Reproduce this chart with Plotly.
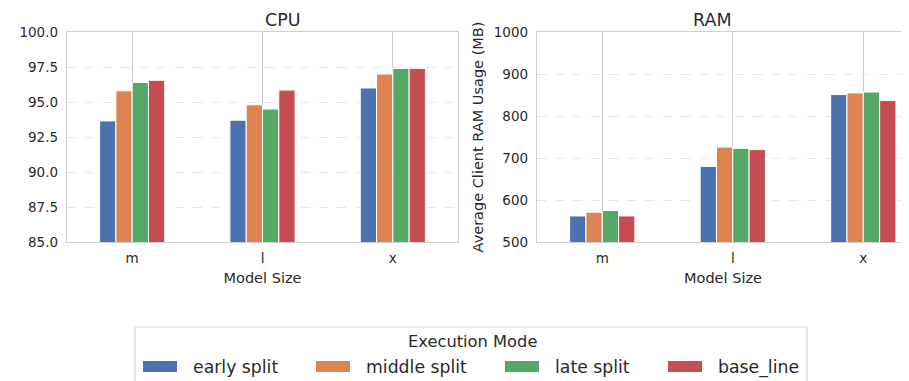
import plotly.graph_objects as go
from plotly.subplots import make_subplots

categories = ["m", "l", "x"]
modes = ["early split", "middle split", "late split", "base_line"]
colors = ["#4C72B0", "#DD8452", "#55A868", "#C44E52"]

cpu_values = {
    "early split": [93.65, 93.7, 96.0],
    "middle split": [95.8, 94.8, 97.0],
    "late split": [96.4, 94.5, 97.4],
    "base_line": [96.55, 95.85, 97.4],
}
ram_values = {
    "early split": [562, 680, 851],
    "middle split": [571, 726, 855],
    "late split": [575, 723, 857],
    "base_line": [562, 720, 837],
}

FONT = "DejaVu Sans"
TXT = "#2a2a2a"
OFF = 8  # page body margin
W, H = 909 - OFF, 381 - OFF
# screen-pixel plot box
LEFT, TOP, BOTTOM = 67, 32, 242
ML = LEFT - OFF
MT = TOP - OFF
MB = H - (BOTTOM - OFF)
MR = 0
PW = W - ML - MR
PH = H - MT - MB


def px(x):
    return (x - OFF - ML) / PW


def py(y):
    return (H - MB - (y - OFF)) / PH


fig = make_subplots(rows=1, cols=2, horizontal_spacing=0.0)

for mode, col in zip(modes, colors):
    fig.add_trace(go.Bar(x=categories, y=cpu_values[mode], name=mode,
                         marker=dict(color=col, line=dict(color="white", width=1)),
                         showlegend=False), row=1, col=1)
    fig.add_trace(go.Bar(x=categories, y=ram_values[mode], name=mode,
                         marker=dict(color=col, line=dict(color="white", width=1)),
                         showlegend=False), row=1, col=2)

d1 = [0, px(458)]
d2 = [px(537), 1.0]

axis_common = dict(showline=True, linecolor="#d0d0d0", linewidth=1.4, mirror=True,
                   ticks="", tickfont=dict(family=FONT, size=13.5, color=TXT))
xtitle = dict(text="Model Size", standoff=7, font=dict(family=FONT, size=14.5, color=TXT))

fig.update_xaxes(domain=d1, range=[-0.5, 2.5], showgrid=True, gridcolor="#cccccc",
                 gridwidth=1, title=xtitle, ticklabelstandoff=4,
                 **axis_common, row=1, col=1)
fig.update_xaxes(domain=d2, range=[-0.5, 2.35], showgrid=True, gridcolor="#cccccc",
                 gridwidth=1, title=xtitle, ticklabelstandoff=4,
                 **axis_common, row=1, col=2)
fig.update_yaxes(range=[85, 100], tickvals=[85, 87.5, 90, 92.5, 95, 97.5, 100],
                 tickformat=".1f", showgrid=True, gridcolor="#e6e6e6", griddash="dash",
                 gridwidth=1, zeroline=False, ticklabelstandoff=5,
                 **axis_common, row=1, col=1)
fig.update_yaxes(range=[500, 1000], dtick=100, showgrid=True, gridcolor="#e6e6e6",
                 griddash="dash", gridwidth=1, zeroline=False, ticklabelstandoff=5,
                 title=dict(text="Average Client RAM Usage (MB)", standoff=6,
                            font=dict(family=FONT, size=14.5, color=TXT)),
                 **axis_common, row=1, col=2)

fig.update_layout(
    width=W, height=H,
    margin=dict(l=ML, r=MR, t=MT, b=MB),
    paper_bgcolor="white", plot_bgcolor="white",
    barmode="group", bargap=0.5, bargroupgap=0,
    font=dict(family=FONT, color=TXT),
)

# subplot titles
fig.add_annotation(text="CPU", xref="paper", yref="paper", x=px(263), y=py(20),
                   yanchor="middle", showarrow=False,
                   font=dict(family=FONT, size=17.5, color=TXT))
fig.add_annotation(text="RAM", xref="paper", yref="paper", x=px(734), y=py(20),
                   yanchor="middle", showarrow=False,
                   font=dict(family=FONT, size=17.5, color=TXT))

# legend (drawn in screen pixels)
fig.add_shape(type="rect", xref="paper", yref="paper",
              x0=px(135), x1=px(807), y0=py(395), y1=py(327),
              line=dict(color="#d9d9d9", width=1.2), fillcolor="white", layer="above")
fig.add_annotation(text="Execution Mode", xref="paper", yref="paper", x=px(472), y=py(341),
                   showarrow=False, xanchor="center", yanchor="middle",
                   font=dict(family=FONT, size=16.3, color=TXT))
swatch_x = [143, 316, 505, 668]
for mode, col, sx in zip(modes, colors, swatch_x):
    fig.add_shape(type="rect", xref="paper", yref="paper",
                  x0=px(sx), x1=px(sx + 34), y0=py(372), y1=py(361),
                  line=dict(width=0), fillcolor=col, layer="above")
    fig.add_annotation(text=mode, xref="paper", yref="paper", x=px(sx + 48), y=py(367),
                       showarrow=False, xanchor="left", yanchor="middle",
                       font=dict(family=FONT, size=17.3, color=TXT))

fig.write_html("out.html")
